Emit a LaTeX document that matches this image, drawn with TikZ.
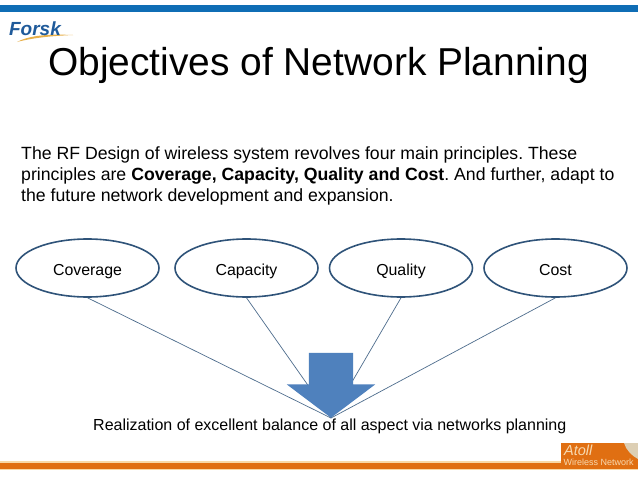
\documentclass[tikz,border=0pt]{standalone}
\usepackage{fontspec}
\setmainfont{Liberation Sans}
\usetikzlibrary{shapes.geometric,shapes.arrows}
\definecolor{topblue}{HTML}{0F6DB5}
\definecolor{barorange}{HTML}{E06F12}
\definecolor{paleorange}{HTML}{F8D9A8}
\definecolor{ringblue}{HTML}{2F5379}
\definecolor{forskblue}{HTML}{1F5A9A}
\definecolor{swooshgold}{HTML}{E8B04A}
\definecolor{arrowblue}{HTML}{4F81BD}
\definecolor{wirelesscream}{HTML}{F7D9B0}
\definecolor{globebeige}{HTML}{DDCFB4}
\tikzset{
  principle/.style={draw=ringblue, line width=1.6pt, ellipse, fill=white, minimum width=143pt, minimum height=58pt, inner sep=0pt, text height=14.5pt, text depth=0.5pt, font=\fontsize{15.9}{17}\selectfont},
  linkline/.style={draw=ringblue!85, line width=0.7pt},
}
\begin{document}
\frenchspacing
\begin{tikzpicture}[x=1pt,y=-1pt]
            \useasboundingbox (0,0) rectangle (638,479);
            \fill[white] (0,0) rectangle (638,479);
            % bars
            \fill[topblue] (0,5) rectangle (638,12);
            \fill[paleorange] (0,461) rectangle (638,470);
            \fill[barorange] (0,462.5) rectangle (638,469);
            \fill[barorange] (561,443) rectangle (638,469);
            \fill[globebeige] (624,443) .. controls (626,450) and (632,456) .. (638,459) -- (638,443) -- cycle;
            % logos
            \fill[swooshgold] (17,42) .. controls (30,35) and (50,34) .. (73,35) .. controls (50,36) and (32,38) .. cycle;
            \node[font=\bfseries\itshape\fontsize{19}{19}\selectfont, text=forskblue, inner sep=0pt] (forsk) at (35,29) {Forsk};
            \node[font=\itshape\fontsize{14.5}{14}\selectfont, text=wirelesscream, inner sep=0pt, anchor=west] (atoll) at (564,450) {Atoll};
            \node[font=\fontsize{9}{9}\selectfont, text=wirelesscream, inner sep=0pt, anchor=west] (wireless) at (563.5,462) {Wireless Network};
            % title and text
            \node[font=\fontsize{38.9}{40}\selectfont, inner sep=0pt, anchor=base west] (title) at (48,75) {Objectives of Network Planning};
            \node[font=\fontsize{17.68}{21.2}\selectfont, inner sep=0pt, anchor=north west, align=left] (intro) at (21,146.5) {The RF Design of wireless system revolves four main principles. These\\principles are \textbf{Coverage, Capacity, Quality and Cost}. And further, adapt to\\the future network development and expansion.};
            % principles
            \node[principle] (coverage) at (87.5,268) {Coverage};
            \node[principle] (capacity) at (246.5,268) {Capacity};
            \node[principle] (quality) at (401,268) {Quality};
            \node[principle] (cost) at (555.5,268) {Cost};
            \coordinate (tip) at (331,418);

            \draw[linkline] (coverage.south) -- (tip);
            \draw[linkline] (capacity.south) -- (tip);
            \draw[linkline] (quality.south) -- (tip);
            \draw[linkline] (cost.south) -- (tip);

            \node[single arrow, fill=arrowblue, rotate=-90, inner xsep=0pt, inner ysep=22pt, minimum height=65pt, single arrow head extend=22pt, single arrow tip angle=106, anchor=tip] (balance) at (tip) {};
            \node[font=\fontsize{16}{17}\selectfont, inner sep=0pt, anchor=base west] (realization) at (93,430) {Realization of excellent balance of all aspect via networks planning};
        \end{tikzpicture}
\end{document}
